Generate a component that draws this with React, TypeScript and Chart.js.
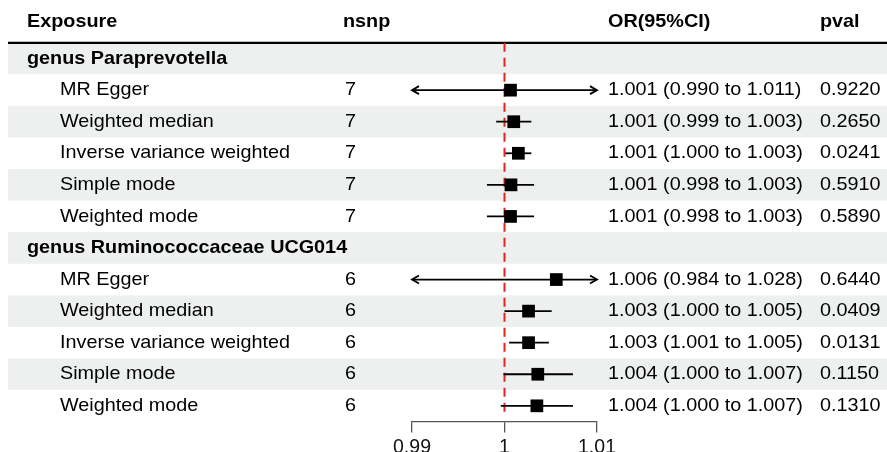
import React, { useEffect, useRef } from "react";
import { Chart, registerables } from "chart.js";

Chart.register(...registerables);

// ---------- data ----------
const groupNames = ["genus Paraprevotella", "genus Ruminococcaceae UCG014"];
const methods = [
  "MR Egger",
  "Weighted median",
  "Inverse variance weighted",
  "Simple mode",
  "Weighted mode",
];
const nsnpPara = [7, 7, 7, 7, 7];
const nsnpRumino = [6, 6, 6, 6, 6];

const estPara = [1.00065, 1.001, 1.0015, 1.0007, 1.00065];
const lowerPara = [0.9898, 0.9991, 1.0001, 0.9981, 0.9981];
const upperPara = [1.0112, 1.0029, 1.0029, 1.0032, 1.0032];
const orTextPara = [
  "1.001 (0.990 to 1.011)",
  "1.001 (0.999 to 1.003)",
  "1.001 (1.000 to 1.003)",
  "1.001 (0.998 to 1.003)",
  "1.001 (0.998 to 1.003)",
];
const pvalPara = ["0.9220", "0.2650", "0.0241", "0.5910", "0.5890"];

const estRumino = [1.0056, 1.0026, 1.0026, 1.0036, 1.0035];
const lowerRumino = [0.984, 1.0, 1.0005, 0.9999, 0.9996];
const upperRumino = [1.028, 1.0051, 1.0048, 1.0074, 1.0074];
const orTextRumino = [
  "1.006 (0.984 to 1.028)",
  "1.003 (1.000 to 1.005)",
  "1.003 (1.001 to 1.005)",
  "1.004 (1.000 to 1.007)",
  "1.004 (1.000 to 1.007)",
];
const pvalRumino = ["0.6440", "0.0409", "0.0131", "0.1150", "0.1310"];

const headers = ["Exposure", "nsnp", "OR(95%CI)", "pval"];
const xTicks = [0.99, 1, 1.01];
const xTickLabels = ["0.99", "1", "1.01"];
const refValue = 1;

// ---------- build rows ----------
type Row = {
  kind: "group" | "method";
  label: string;
  nsnp?: number;
  est?: number;
  lo?: number;
  hi?: number;
  orText?: string;
  pval?: string;
};

function buildRows(): Row[] {
  const rows: Row[] = [];
  const groups = [
    { nsnp: nsnpPara, est: estPara, lo: lowerPara, hi: upperPara, or: orTextPara, p: pvalPara },
    { nsnp: nsnpRumino, est: estRumino, lo: lowerRumino, hi: upperRumino, or: orTextRumino, p: pvalRumino },
  ];
  groups.forEach((g, gi) => {
    rows.push({ kind: "group", label: groupNames[gi] });
    methods.forEach((m, mi) => {
      rows.push({
        kind: "method",
        label: m,
        nsnp: g.nsnp[mi],
        est: g.est[mi],
        lo: g.lo[mi],
        hi: g.hi[mi],
        orText: g.or[mi],
        pval: g.p[mi],
      });
    });
  });
  return rows;
}

const FONT_FAMILY = '"Liberation Sans", Arial, Helvetica, sans-serif';
const FONT_SIZE = 18.5;
const STRETCH = 1.07;

export default function App() {
  const canvasRef = useRef<HTMLCanvasElement | null>(null);

  useEffect(() => {
    const canvas = canvasRef.current;
    if (!canvas) return;
    const rows = buildRows();
    const xMin = xTicks[0];
    const xMax = xTicks[xTicks.length - 1];

    const pointData: { x: number; y: number }[] = [];
    const ciDatasets: any[] = [];
    rows.forEach((r, i) => {
      if (r.kind !== "method") return;
      pointData.push({ x: r.est as number, y: i });
      ciDatasets.push({
        type: "line",
        data: [
          { x: Math.max(r.lo as number, xMin), y: i },
          { x: Math.min(r.hi as number, xMax), y: i },
        ],
        borderColor: "#000",
        borderWidth: 1.8,
        pointRadius: 0,
        fill: false,
        clip: false,
      });
    });

    const drawText = (
      ctx: CanvasRenderingContext2D,
      text: string,
      x: number,
      y: number,
      bold: boolean
    ) => {
      ctx.save();
      ctx.font = `${bold ? "bold " : ""}${FONT_SIZE}px ${FONT_FAMILY}`;
      ctx.fillStyle = "#000";
      ctx.textBaseline = "middle";
      ctx.textAlign = "left";
      ctx.translate(x, y);
      ctx.scale(STRETCH, 1);
      ctx.fillText(text, 0, 0);
      ctx.restore();
    };

    const tablePlugin = {
      id: "forestTable",
      beforeDraw(chart: any) {
        const { ctx, chartArea, scales } = chart;
        const ys = scales.y;
        const W = chart.width;
        ctx.save();
        ctx.fillStyle = "#ffffff";
        ctx.fillRect(0, 0, W, chart.height);
        const h = Math.abs(ys.getPixelForValue(1) - ys.getPixelForValue(0));
        rows.forEach((_r, i) => {
          if (i % 2 === 0) {
            const yc = ys.getPixelForValue(i);
            ctx.fillStyle = "#eef0f0";
            ctx.fillRect(8, yc - h / 2, W - 8, h);
          }
        });
        // header rule
        ctx.strokeStyle = "#000";
        ctx.lineWidth = 2.2;
        ctx.beginPath();
        ctx.moveTo(8, chartArea.top);
        ctx.lineTo(W, chartArea.top);
        ctx.stroke();
        ctx.restore();
      },
      beforeDatasetsDraw(chart: any) {
        const { ctx, chartArea, scales } = chart;
        const xp = scales.x.getPixelForValue(refValue);
        ctx.save();
        ctx.strokeStyle = "#e5231f";
        ctx.lineWidth = 2;
        ctx.setLineDash([9, 6]);
        ctx.beginPath();
        ctx.moveTo(xp, chartArea.top);
        ctx.lineTo(xp, chartArea.bottom - 4);
        ctx.stroke();
        ctx.restore();
      },
      afterDatasetsDraw(chart: any) {
        const { ctx, scales } = chart;
        const xs = scales.x;
        const ys = scales.y;
        ctx.save();
        ctx.strokeStyle = "#000";
        ctx.lineWidth = 1.8;
        rows.forEach((r, i) => {
          if (r.kind !== "method") return;
          const y = ys.getPixelForValue(i);
          if ((r.lo as number) < xMin) {
            const x = xs.getPixelForValue(xMin);
            ctx.beginPath();
            ctx.moveTo(x + 7, y - 4);
            ctx.lineTo(x, y);
            ctx.lineTo(x + 7, y + 4);
            ctx.stroke();
          }
          if ((r.hi as number) > xMax) {
            const x = xs.getPixelForValue(xMax);
            ctx.beginPath();
            ctx.moveTo(x - 7, y - 4);
            ctx.lineTo(x, y);
            ctx.lineTo(x - 7, y + 4);
            ctx.stroke();
          }
        });
        ctx.restore();
      },
      afterDraw(chart: any) {
        const { ctx, scales } = chart;
        const ys = scales.y;
        const colX = [27, 343, 608, 820];
        headers.forEach((t, k) => drawText(ctx, t, colX[k], 22, true));
        rows.forEach((r, i) => {
          const y = ys.getPixelForValue(i);
          if (r.kind === "group") {
            drawText(ctx, r.label, 27, y, true);
          } else {
            drawText(ctx, r.label, 60, y, false);
            drawText(ctx, String(r.nsnp), 345, y, false);
            drawText(ctx, r.orText as string, 608, y, false);
            drawText(ctx, r.pval as string, 820, y, false);
          }
        });
      },
    };

    const chart = new Chart(canvas, {
      type: "scatter",
      data: {
        datasets: [
          {
            type: "scatter",
            data: pointData,
            pointStyle: "rect",
            pointRadius: 9,
            pointHoverRadius: 9,
            backgroundColor: "#000",
            borderColor: "#000",
            borderWidth: 0,
            clip: false,
          } as any,
          ...ciDatasets,
        ],
      },
      options: {
        animation: false,
        responsive: false,
        events: [],
        layout: { padding: { left: 412, right: 290, top: 42.8, bottom: 0 } },
        plugins: {
          legend: { display: false },
          tooltip: { enabled: false },
        },
        scales: {
          x: {
            type: "linear",
            position: "bottom",
            min: xMin,
            max: xMax,
            afterBuildTicks: (s: any) => {
              s.ticks = xTicks.map((v) => ({ value: v }));
            },
            ticks: {
              autoSkip: false,
              maxRotation: 0,
              padding: 3,
              color: "#111",
              font: { family: FONT_FAMILY, size: 19.5 },
              callback: (_v: any, idx: number) => xTickLabels[idx],
            },
            grid: {
              drawOnChartArea: false,
              drawTicks: true,
              tickLength: 11,
              color: "#555",
              lineWidth: 1.3,
            },
            border: { display: true, color: "#555", width: 1.3 },
          },
          y: {
            type: "linear",
            min: -0.5,
            max: rows.length - 0.5,
            reverse: true,
            display: false,
          },
        },
      } as any,
      plugins: [tablePlugin],
    });

    return () => chart.destroy();
  }, []);

  return (
    <div
      style={{
        position: "fixed",
        left: 0,
        top: 0,
        width: 887,
        height: 452,
        overflow: "hidden",
        background: "#fff",
      }}
    >
      <canvas ref={canvasRef} width={887} height={462} style={{ width: 887, height: 462, display: "block" }} />
    </div>
  );
}
